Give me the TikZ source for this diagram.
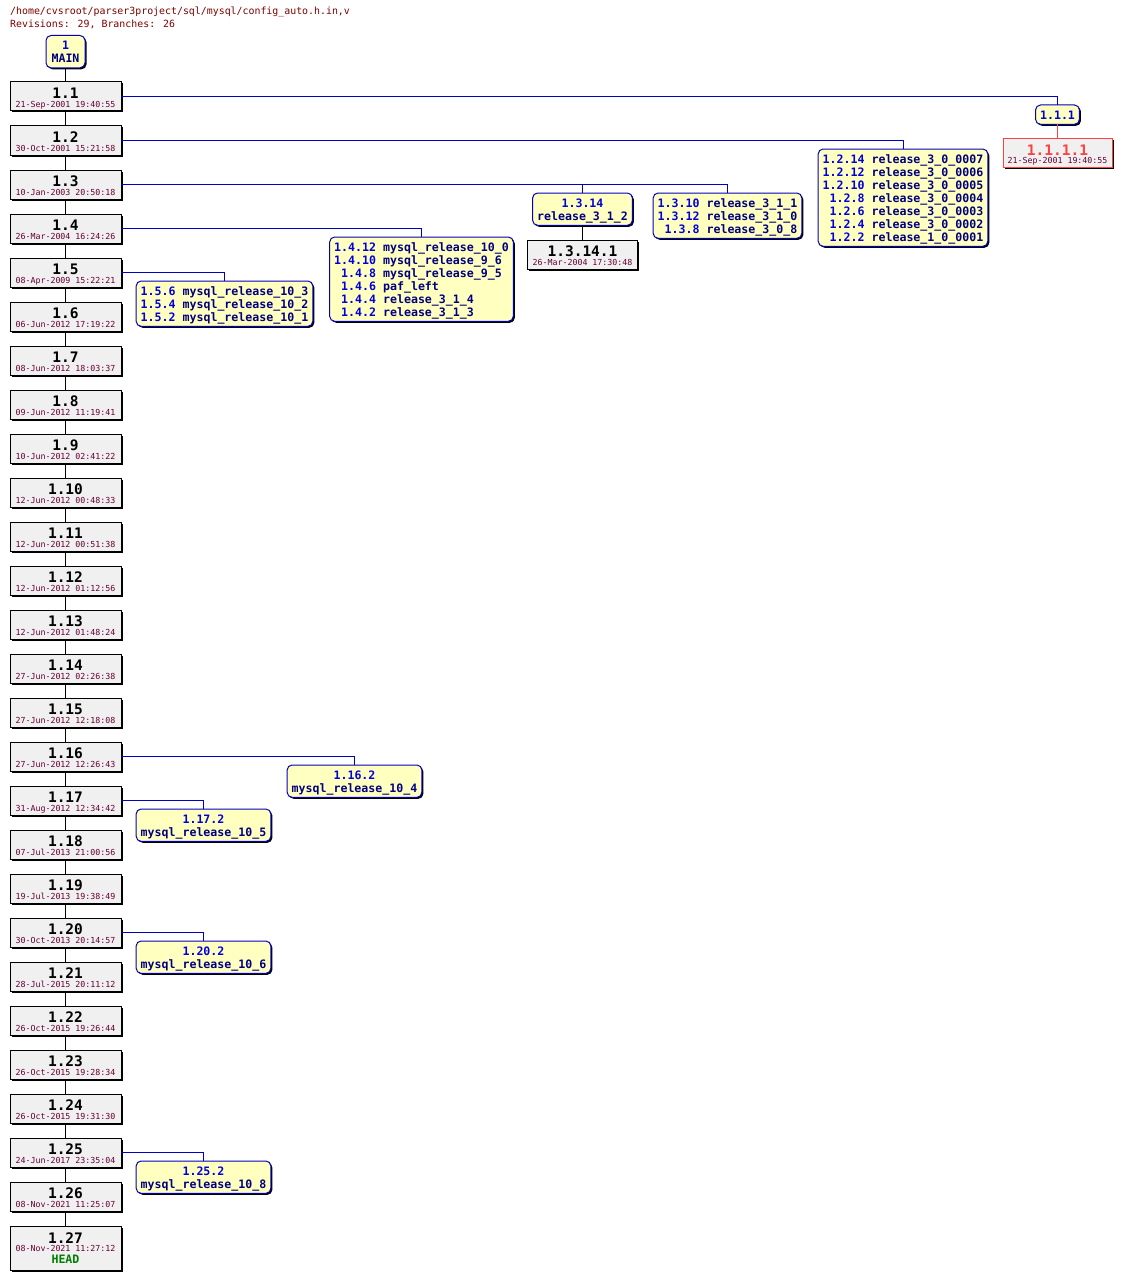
\documentclass[tikz,border=0pt]{standalone}
\usepackage{fontspec}
\setmainfont{DejaVu Sans Mono}
\usepackage{xcolor}
\usetikzlibrary{positioning,shadows}
\definecolor{revfill}{HTML}{F0F0F0}
\definecolor{tagfill}{HTML}{FFFFC0}
\definecolor{tagline}{HTML}{0000C0}
\definecolor{revblue}{HTML}{0000DD}
\definecolor{tagnavy}{HTML}{000080}
\definecolor{datered}{HTML}{660033}
\definecolor{headred}{HTML}{800000}
\definecolor{deadred}{HTML}{FF4040}
\definecolor{headgreen}{HTML}{007F00}
\newcommand{\revfont}{\fontsize{14.5}{15}\selectfont\bfseries}
\newcommand{\datefont}{\fontsize{8.3}{8}\selectfont}
\newcommand{\tagfont}{\fontsize{11.6}{13}\selectfont\bfseries}
\newcommand{\hdrfont}{\fontsize{9.9}{12}\selectfont}
\newcommand{\rv}[1]{\textcolor{revblue}{#1}}
\newcommand{\revtext}[2]{\begin{tabular}[t]{@{}c@{}}{\revfont #1}\\\color{datered}#2\end{tabular}}

\begin{document}
\begin{tikzpicture}[
  x=1pt, y=-1pt,
  node distance=15pt,
  rev/.style={draw=black,line width=1pt,fill=revfill,minimum width=111pt,minimum height=29pt,
    inner sep=0pt,outer sep=0pt,text height=15pt,anchor=north,font=\datefont,
    drop shadow={shadow xshift=1.5pt,shadow yshift=-1.5pt,fill=black,opacity=1}},
  headrev/.style={rev,minimum height=44pt,text height=13pt},
  deadrev/.style={rev,draw=deadred,minimum width=109pt},
  tag/.style={draw=tagline,line width=1pt,fill=tagfill,rounded corners=5pt,inner xsep=4.5pt,
    inner ysep=1.2pt,outer sep=0pt,text height=13pt,anchor=north,font=\tagfont,text=tagnavy,
    drop shadow={shadow xshift=1.5pt,shadow yshift=-1.5pt,fill=black,opacity=1}},
  trunk/.style={draw=black,line width=1pt},
  branch/.style={draw=tagline,line width=1pt}
]
\path[fill=white,use as bounding box] (0,0) rectangle (1122,1279);
% header
\node[anchor=base west,inner sep=0pt,font=\hdrfont,text=headred] (path) at (10,15) {/home/cvsroot/parser3project/sql/mysql/config\_auto.h.in,v};
\node[anchor=base west,inner sep=0pt,font=\hdrfont,text=headred] (stats) at (10,28) {Revisions: 29, Branches: 26};
% trunk
\node[tag,minimum width=39pt] (main) at (65.5,35.5) {\begin{tabular}[t]{@{}c@{}}\rv{1}\\MAIN\end{tabular}};
\node[rev] (r11) at (65.5,82) {\revtext{1.1}{21-Sep-2001 19:40:55}};
\node[rev,below=of r11] (r12) {\revtext{1.2}{30-Oct-2001 15:21:58}};
\node[rev,below=of r12] (r13) {\revtext{1.3}{10-Jan-2003 20:50:18}};
\node[rev,below=of r13] (r14) {\revtext{1.4}{26-Mar-2004 16:24:26}};
\node[rev,below=of r14] (r15) {\revtext{1.5}{08-Apr-2009 15:22:21}};
\node[rev,below=of r15] (r16) {\revtext{1.6}{06-Jun-2012 17:19:22}};
\node[rev,below=of r16] (r17) {\revtext{1.7}{08-Jun-2012 18:03:37}};
\node[rev,below=of r17] (r18) {\revtext{1.8}{09-Jun-2012 11:19:41}};
\node[rev,below=of r18] (r19) {\revtext{1.9}{10-Jun-2012 02:41:22}};
\node[rev,below=of r19] (r110) {\revtext{1.10}{12-Jun-2012 00:48:33}};
\node[rev,below=of r110] (r111) {\revtext{1.11}{12-Jun-2012 00:51:38}};
\node[rev,below=of r111] (r112) {\revtext{1.12}{12-Jun-2012 01:12:56}};
\node[rev,below=of r112] (r113) {\revtext{1.13}{12-Jun-2012 01:48:24}};
\node[rev,below=of r113] (r114) {\revtext{1.14}{27-Jun-2012 02:26:38}};
\node[rev,below=of r114] (r115) {\revtext{1.15}{27-Jun-2012 12:18:08}};
\node[rev,below=of r115] (r116) {\revtext{1.16}{27-Jun-2012 12:26:43}};
\node[rev,below=of r116] (r117) {\revtext{1.17}{31-Aug-2012 12:34:42}};
\node[rev,below=of r117] (r118) {\revtext{1.18}{07-Jul-2013 21:00:56}};
\node[rev,below=of r118] (r119) {\revtext{1.19}{19-Jul-2013 19:38:49}};
\node[rev,below=of r119] (r120) {\revtext{1.20}{30-Oct-2013 20:14:57}};
\node[rev,below=of r120] (r121) {\revtext{1.21}{28-Jul-2015 20:11:12}};
\node[rev,below=of r121] (r122) {\revtext{1.22}{26-Oct-2015 19:26:44}};
\node[rev,below=of r122] (r123) {\revtext{1.23}{26-Oct-2015 19:28:34}};
\node[rev,below=of r123] (r124) {\revtext{1.24}{26-Oct-2015 19:31:30}};
\node[rev,below=of r124] (r125) {\revtext{1.25}{24-Jun-2017 23:35:04}};
\node[rev,below=of r125] (r126) {\revtext{1.26}{08-Nov-2021 11:25:07}};
\node[headrev,below=of r126] (r127) {\begin{tabular}[t]{@{}c@{}}{\revfont 1.27}\\\color{datered}08-Nov-2021 11:27:12\\[0.5pt]{\tagfont\color{headgreen}HEAD}\end{tabular}};
% branches
\node[tag] (b111) at (1057.5,105) {\begin{tabular}[t]{@{}c@{}}\rv{1.1.1}\end{tabular}};
\node[deadrev] (r1111) at (1057.5,138.5) {\begin{tabular}[t]{@{}c@{}}{\revfont\color{deadred}1.1.1.1}\\\color{datered}21-Sep-2001 19:40:55\end{tabular}};
\node[tag] (b12) at (903,149) {\begin{tabular}[t]{@{}r@{\ }l@{}}
  \rv{1.2.14} & release\_3\_0\_0007\\
  \rv{1.2.12} & release\_3\_0\_0006\\
  \rv{1.2.10} & release\_3\_0\_0005\\
  \rv{1.2.8} & release\_3\_0\_0004\\
  \rv{1.2.6} & release\_3\_0\_0003\\
  \rv{1.2.4} & release\_3\_0\_0002\\
  \rv{1.2.2} & release\_1\_0\_0001\end{tabular}};
\node[tag] (b1314) at (582.5,193) {\begin{tabular}[t]{@{}c@{}}\rv{1.3.14}\\release\_3\_1\_2\end{tabular}};
\node[rev,minimum width=110pt] (r13141) at (582.5,240) {\revtext{1.3.14.1}{26-Mar-2004 17:30:48}};
\node[tag] (b1310) at (727.5,193) {\begin{tabular}[t]{@{}r@{\ }l@{}}
  \rv{1.3.10} & release\_3\_1\_1\\
  \rv{1.3.12} & release\_3\_1\_0\\
  \rv{1.3.8} & release\_3\_0\_8\end{tabular}};
\node[tag] (b14) at (421.5,237) {\begin{tabular}[t]{@{}r@{\ }l@{}}
  \rv{1.4.12} & mysql\_release\_10\_0\\
  \rv{1.4.10} & mysql\_release\_9\_6\\
  \rv{1.4.8} & mysql\_release\_9\_5\\
  \rv{1.4.6} & paf\_left\\
  \rv{1.4.4} & release\_3\_1\_4\\
  \rv{1.4.2} & release\_3\_1\_3\end{tabular}};
\node[tag] (b15) at (224.5,281) {\begin{tabular}[t]{@{}r@{\ }l@{}}
  \rv{1.5.6} & mysql\_release\_10\_3\\
  \rv{1.5.4} & mysql\_release\_10\_2\\
  \rv{1.5.2} & mysql\_release\_10\_1\end{tabular}};
\node[tag] (b116) at (354.5,765) {\begin{tabular}[t]{@{}c@{}}\rv{1.16.2}\\mysql\_release\_10\_4\end{tabular}};
\node[tag] (b117) at (203.5,809) {\begin{tabular}[t]{@{}c@{}}\rv{1.17.2}\\mysql\_release\_10\_5\end{tabular}};
\node[tag] (b120) at (203.5,941) {\begin{tabular}[t]{@{}c@{}}\rv{1.20.2}\\mysql\_release\_10\_6\end{tabular}};
\node[tag] (b125) at (203.5,1161) {\begin{tabular}[t]{@{}c@{}}\rv{1.25.2}\\mysql\_release\_10\_8\end{tabular}};
% connectors
\draw[trunk] (main) -- (r11);
\draw[trunk] (r11) -- (r12);
\draw[trunk] (r12) -- (r13);
\draw[trunk] (r13) -- (r14);
\draw[trunk] (r14) -- (r15);
\draw[trunk] (r15) -- (r16);
\draw[trunk] (r16) -- (r17);
\draw[trunk] (r17) -- (r18);
\draw[trunk] (r18) -- (r19);
\draw[trunk] (r19) -- (r110);
\draw[trunk] (r110) -- (r111);
\draw[trunk] (r111) -- (r112);
\draw[trunk] (r112) -- (r113);
\draw[trunk] (r113) -- (r114);
\draw[trunk] (r114) -- (r115);
\draw[trunk] (r115) -- (r116);
\draw[trunk] (r116) -- (r117);
\draw[trunk] (r117) -- (r118);
\draw[trunk] (r118) -- (r119);
\draw[trunk] (r119) -- (r120);
\draw[trunk] (r120) -- (r121);
\draw[trunk] (r121) -- (r122);
\draw[trunk] (r122) -- (r123);
\draw[trunk] (r123) -- (r124);
\draw[trunk] (r124) -- (r125);
\draw[trunk] (r125) -- (r126);
\draw[trunk] (r126) -- (r127);
\draw[branch] (r11.east) -| (b111.north);
\draw[draw=deadred,line width=1pt] (b111.south) -- (r1111.north);
\draw[branch] (r12.east) -| (b12.north);
\draw[branch] (r13.east) -| (b1314.north);
\draw[branch] (r13.east) -| (b1310.north);
\draw[trunk] (b1314.south) -- (r13141.north);
\draw[branch] (r14.east) -| (b14.north);
\draw[branch] (r15.east) -| (b15.north);
\draw[branch] (r116.east) -| (b116.north);
\draw[branch] (r117.east) -| (b117.north);
\draw[branch] (r120.east) -| (b120.north);
\draw[branch] (r125.east) -| (b125.north);
\end{tikzpicture}
\end{document}
